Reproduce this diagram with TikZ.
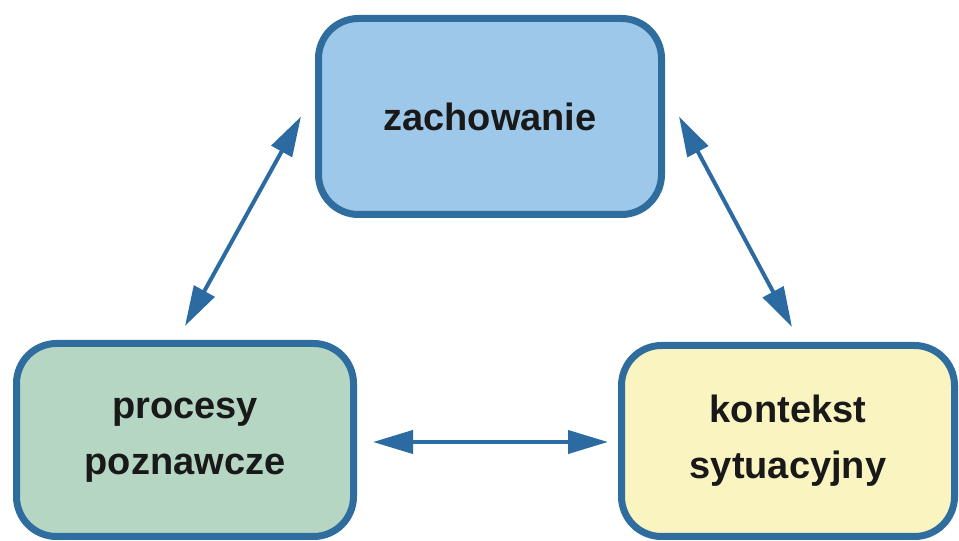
\documentclass[tikz,border=0pt]{standalone}
\usepackage{fontspec}
\setmainfont{Liberation Sans}
\usetikzlibrary{arrows.meta,positioning}
\definecolor{boxline}{HTML}{2E6D9D}
\definecolor{arrowblue}{HTML}{2B6BA2}
\definecolor{blueFill}{HTML}{9DC8E9}
\definecolor{greenFill}{HTML}{B6D6C4}
\definecolor{yellowFill}{HTML}{FAF4C0}
\tikzset{
  mybox/.style={
    rectangle,
    rounded corners=20pt,
    draw=boxline,
    line width=3.5pt,
    align=center,
    font=\bfseries\fontsize{19}{28}\selectfont,
    text=black!90
  },
  dblarrow/.style={
    draw=arrowblue,
    line width=2pt,
    {Triangle[length=20pt,width=11.5pt]}-{Triangle[length=20pt,width=11.5pt]}
  }
}
\begin{document}
\begin{tikzpicture}[x=1pt,y=1pt]
\useasboundingbox (0,0) rectangle (479.5,270.5);

\node[mybox,fill=blueFill,minimum width=171.5pt,minimum height=98pt]
  at (245,212.25) (zach) {zachowanie};

\node[mybox,fill=greenFill,minimum width=168.5pt,minimum height=96.5pt]
  at (92.5,50.5) (proc) {procesy\\poznawcze};

\node[mybox,fill=yellowFill,minimum width=166.5pt,minimum height=95.5pt]
  at (394,50) (kont) {kontekst\\sytuacyjny};

\draw[dblarrow] ([xshift=-7pt]zach.west) -- ([yshift=7pt]proc.north);
\draw[dblarrow] ([xshift=7pt]zach.east) -- ([xshift=2pt,yshift=7.5pt]kont.north);
\draw[dblarrow] ([xshift=8pt,yshift=-1pt]proc.east) -- ([xshift=-5pt,yshift=-0.5pt]kont.west);

\end{tikzpicture}
\end{document}
